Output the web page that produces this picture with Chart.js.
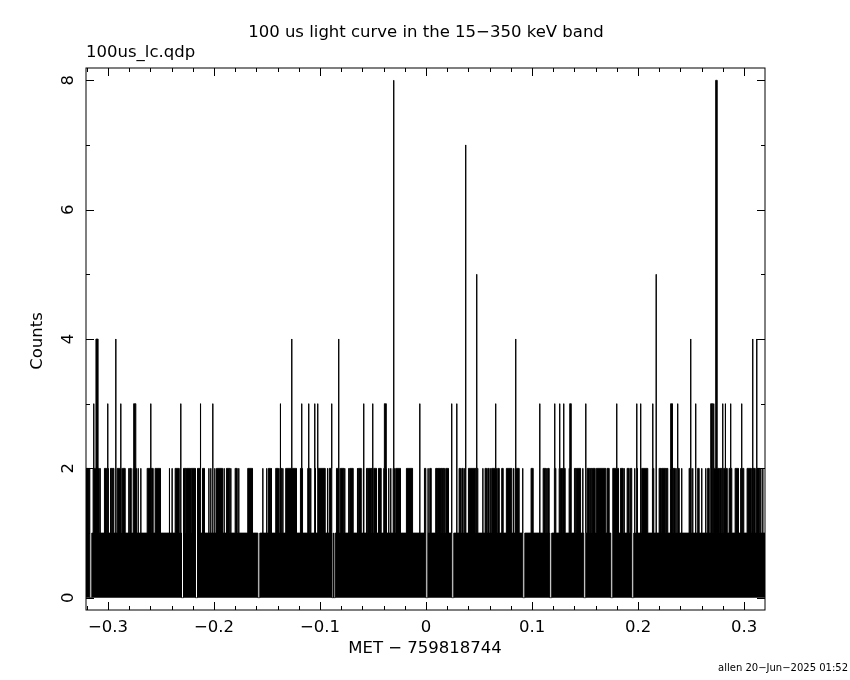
<!DOCTYPE html>
<html>
<head>
<meta charset="utf-8">
<script src="https://cdn.jsdelivr.net/npm/chart.js@4.4.0/dist/chart.umd.min.js"></script>
<style>
  html, body { margin: 0; padding: 0; background: #fff; }
  #wrap { width: 850px; height: 680px; position: relative; }
</style>
</head>
<body>
<div id="wrap"><canvas id="lcChart"></canvas></div>
<script>
// 100 us bins, time relative to MET 759818744 (s)
const binSize = 0.0001;
const timeStart = -0.3208;
const timeEnd = 0.3198;
const baseCount = 1;

// runs of bins that reach 2 counts (start, end); equal values = a single bin
const level2Start = [
  -0.3209, -0.3177, -0.3140, -0.3074, -0.3033, -0.2998, -0.2976, -0.2958, -0.2913, -0.2863,
  -0.2803, -0.2794, -0.2762, -0.2715, -0.2690, -0.2630, -0.2592, -0.2555, -0.2420, -0.2395,
  -0.2366, -0.2291, -0.2259, -0.2215, -0.2158,
  -0.2108, -0.2048, -0.2030, -0.2011, -0.1992, -0.1976, -0.1904, -0.1882, -0.1841, -0.1800,
  -0.1766, -0.1681, -0.1539, -0.1502, -0.1486, -0.1458, -0.1417, -0.1379, -0.1350, -0.1323,
  -0.1184, -0.1115, -0.1087, -0.1043, -0.1021,
  -0.0929, -0.0913, -0.0844, -0.0807, -0.0766, -0.0728, -0.0719, -0.0646, -0.0637, -0.0590,
  -0.0561, -0.0542, -0.0517, -0.0492, -0.0448, -0.0398, -0.0351, -0.0332, -0.0309, -0.0285,
  -0.0184, -0.0014, 0.0020, 0.0036, 0.0092, 0.0111,
  0.0143, 0.0162, 0.0187, 0.0313, 0.0338, 0.0366, 0.0401, 0.0476, 0.0537, 0.0558,
  0.0583, 0.0611, 0.0621, 0.0677, 0.0715, 0.0759, 0.0825, 0.0841, 0.0913, 0.0992,
  0.1106, 0.1140, 0.1149, 0.1212, 0.1257,
  0.1278, 0.1288, 0.1351, 0.1401, 0.1420, 0.1480, 0.1521, 0.1552, 0.1571, 0.1608,
  0.1709, 0.1759, 0.1835, 0.1870, 0.1898, 0.1929, 0.1970, 0.1995, 0.2036, 0.2137,
  0.2200, 0.2225, 0.2269, 0.2307, 0.2332, 0.2360, 0.2375,
  0.2413, 0.2483, 0.2517, 0.2545, 0.2564, 0.2602, 0.2640, 0.2658, 0.2709, 0.2772,
  0.2809, 0.2860, 0.2917, 0.2970, 0.2986, 0.3030, 0.3077, 0.3087, 0.3118, 0.3159, 0.3178
];
const level2End = [
  -0.3184, -0.3165, -0.3083, -0.3074, -0.3014, -0.2998, -0.2964, -0.2945, -0.2875, -0.2838,
  -0.2803, -0.2781, -0.2731, -0.2715, -0.2690, -0.2599, -0.2574, -0.2505, -0.2420, -0.2395,
  -0.2328, -0.2266, -0.2222, -0.2172, -0.2127,
  -0.2090, -0.2048, -0.2030, -0.2011, -0.1992, -0.1920, -0.1904, -0.1851, -0.1841, -0.1781,
  -0.1766, -0.1637, -0.1539, -0.1502, -0.1467, -0.1458, -0.1392, -0.1360, -0.1350, -0.1222,
  -0.1165, -0.1096, -0.1087, -0.1043, -0.0951,
  -0.0929, -0.0889, -0.0819, -0.0775, -0.0766, -0.0728, -0.0687, -0.0646, -0.0611, -0.0590,
  -0.0549, -0.0524, -0.0505, -0.0467, -0.0423, -0.0373, -0.0351, -0.0332, -0.0297, -0.0241,
  -0.0127, 0.0005, 0.0020, 0.0049, 0.0106, 0.0137,
  0.0156, 0.0175, 0.0212, 0.0325, 0.0351, 0.0366, 0.0470, 0.0489, 0.0537, 0.0571,
  0.0596, 0.0611, 0.0665, 0.0691, 0.0728, 0.0809, 0.0825, 0.0879, 0.0913, 0.1011,
  0.1130, 0.1140, 0.1162, 0.1225, 0.1269,
  0.1278, 0.1313, 0.1370, 0.1413, 0.1458, 0.1480, 0.1545, 0.1564, 0.1596, 0.1696,
  0.1728, 0.1816, 0.1860, 0.1870, 0.1917, 0.1948, 0.1970, 0.1995, 0.2092, 0.2149,
  0.2219, 0.2262, 0.2281, 0.2325, 0.2351, 0.2360, 0.2389,
  0.2413, 0.2502, 0.2517, 0.2545, 0.2577, 0.2602, 0.2640, 0.2672, 0.2766, 0.2791,
  0.2842, 0.2885, 0.2948, 0.2970, 0.2998, 0.3068, 0.3077, 0.3106, 0.3149, 0.3159, 0.3178
];

// isolated bins with 3 or more counts
const peakStart = [
  -0.3134, -0.3113, -0.3002, -0.2926, -0.2879, -0.2757, -0.2596, -0.2313, -0.2127, -0.2011,
  -0.1373, -0.1266, -0.1172, -0.1106, -0.1049, -0.1021, -0.0889, -0.0823, -0.0587, -0.0502,
  -0.0392, -0.0304, -0.0058, 0.0243, 0.0291, 0.0375, 0.0479, 0.0658, 0.0847, 0.1074,
  0.1215, 0.1262, 0.1300, 0.1357, 0.1508, 0.1800, 0.1989, 0.2026, 0.2140, 0.2172,
  0.2309, 0.2375, 0.2498, 0.2545, 0.2687, 0.2715, 0.2734, 0.2800, 0.2825, 0.2875,
  0.2979, 0.3083, 0.3121
];
const peakEnd = [
  -0.3134, -0.3094, -0.3002, -0.2926, -0.2879, -0.2738, -0.2596, -0.2313, -0.2127, -0.2011,
  -0.1373, -0.1266, -0.1172, -0.1106, -0.1049, -0.1021, -0.0889, -0.0823, -0.0587, -0.0502,
  -0.0375, -0.0304, -0.0058, 0.0243, 0.0291, 0.0375, 0.0479, 0.0658, 0.0847, 0.1074,
  0.1215, 0.1262, 0.1300, 0.1370, 0.1508, 0.1800, 0.1989, 0.2026, 0.2140, 0.2172,
  0.2325, 0.2375, 0.2498, 0.2545, 0.2706, 0.2715, 0.2747, 0.2800, 0.2825, 0.2875,
  0.2979, 0.3083, 0.3121
];
const peakCount = [
  3, 4, 3, 4, 3, 3, 3, 3, 3, 3,
  3, 4, 3, 3, 3, 3, 3, 4, 3, 3,
  3, 8, 3, 3, 3, 7, 5, 3, 4, 3,
  3, 3, 3, 3, 3, 3, 3, 3, 3, 5,
  3, 3, 4, 3, 3, 3, 8, 3, 3, 3,
  3, 4, 4
];

// runs of empty bins
const zeroStart = [-0.3171, -0.2306, -0.2174, -0.1586, -0.0886, -0.0869, -0.0001, 0.0244, 0.0914, 0.1168, 0.1489, 0.1744, 0.1942];
const zeroEnd   = [-0.3153, -0.2288, -0.2156, -0.1568, -0.0874, -0.0857, 0.0017, 0.0262, 0.0932, 0.1186, 0.1507, 0.1762, 0.1960];

const xTickValues = [-0.3, -0.2, -0.1, 0, 0.1, 0.2, 0.3];
const xTickLabels = ['\u22120.3', '\u22120.2', '\u22120.1', '0', '0.1', '0.2', '0.3'];
const yTickValues = [0, 2, 4, 6, 8];
const yTickLabels = ['0', '2', '4', '6', '8'];

const nBins = Math.round((timeEnd - timeStart) / binSize);
const counts = new Array(nBins).fill(baseCount);

function setRun(a, b, v) {
  const i0 = Math.max(0, Math.round((a - timeStart) / binSize));
  const i1 = Math.min(nBins - 1, Math.round((b - timeStart) / binSize));
  for (let i = i0; i <= i1; i++) counts[i] = v;
}
level2Start.forEach((s, k) => setRun(s, level2End[k], 2));
peakStart.forEach((s, k) => setRun(s, peakEnd[k], peakCount[k]));
zeroStart.forEach((s, k) => setRun(s, zeroEnd[k], 0));

const points = counts.map((c, i) => ({ x: timeStart + i * binSize, y: c }));
points.push({ x: timeEnd, y: counts[nBins - 1] });

const FONT = '"DejaVu Sans", "Liberation Sans", sans-serif';

// pgplot-like frame: inward ticks on all four sides, rotated y labels
const framePlugin = {
  id: 'frame',
  afterDraw(chart) {
    const { ctx, chartArea: a, scales } = chart;
    const xs = scales.x, ys = scales.y;
    ctx.save();
    ctx.strokeStyle = '#000';
    ctx.lineWidth = 1;
    ctx.strokeRect(a.left, a.top, a.right - a.left, a.bottom - a.top);

    ctx.beginPath();
    for (let v = -0.32; v <= 0.3201; v += 0.02) {
      const px = Math.round(xs.getPixelForValue(v)) + 0.5;
      if (px <= a.left || px >= a.right) continue;
      const major = Math.abs(v * 10 - Math.round(v * 10)) < 1e-6;
      const len = major ? 8 : 4;
      ctx.moveTo(px, a.bottom); ctx.lineTo(px, a.bottom - len);
      ctx.moveTo(px, a.top); ctx.lineTo(px, a.top + len);
    }
    for (let v = 0; v <= 8; v += 1) {
      const py = Math.round(ys.getPixelForValue(v)) + 0.5;
      const len = v % 2 === 0 ? 8 : 4;
      ctx.moveTo(a.left, py); ctx.lineTo(a.left + len, py);
      ctx.moveTo(a.right, py); ctx.lineTo(a.right - len, py);
    }
    ctx.stroke();

    ctx.fillStyle = '#000';
    ctx.font = '16.5px ' + FONT;
    ctx.textAlign = 'center';
    ctx.textBaseline = 'middle';
    xTickValues.forEach((v, k) => {
      ctx.fillText(xTickLabels[k], xs.getPixelForValue(v), 628);
    });
    yTickValues.forEach((v, k) => {
      ctx.save();
      ctx.translate(69, ys.getPixelForValue(v));
      ctx.rotate(-Math.PI / 2);
      ctx.fillText(yTickLabels[k], 0, 0);
      ctx.restore();
    });

    ctx.fillText('MET \u2212 759818744', 425, 649);
    ctx.fillText('100 us light curve in the 15\u2212350 keV band', 426, 33);
    ctx.save();
    ctx.translate(38, 341);
    ctx.rotate(-Math.PI / 2);
    ctx.fillText('Counts', 0, 0);
    ctx.restore();

    ctx.textAlign = 'left';
    ctx.fillText('100us_lc.qdp', 86, 53);

    ctx.font = '10px ' + FONT;
    ctx.textAlign = 'right';
    ctx.fillText('allen 20\u2212Jun\u22122025 01:52', 848, 668);
    ctx.restore();
  }
};

const ctx = document.getElementById('lcChart').getContext('2d');

new Chart(ctx, {
  type: 'line',
  data: {
    datasets: [{
      label: 'Counts',
      data: points,
      parsing: false,
      stepped: 'after',
      borderColor: '#000',
      backgroundColor: '#000',
      borderWidth: 1,
      fill: 'origin',
      pointRadius: 0,
      tension: 0
    }]
  },
  options: {
    responsive: true,
    maintainAspectRatio: false,
    animation: false,
    events: [],
    layout: { padding: { left: 86, right: 85, top: 68, bottom: 70 } },
    plugins: {
      legend: { display: false },
      tooltip: { enabled: false },
      title: { display: false }
    },
    scales: {
      x: {
        type: 'linear',
        min: timeStart,
        max: timeEnd,
        display: false
      },
      y: {
        min: -0.19,
        max: 8.19,
        display: false
      }
    }
  },
  plugins: [framePlugin]
});
</script>
</body>
</html>
